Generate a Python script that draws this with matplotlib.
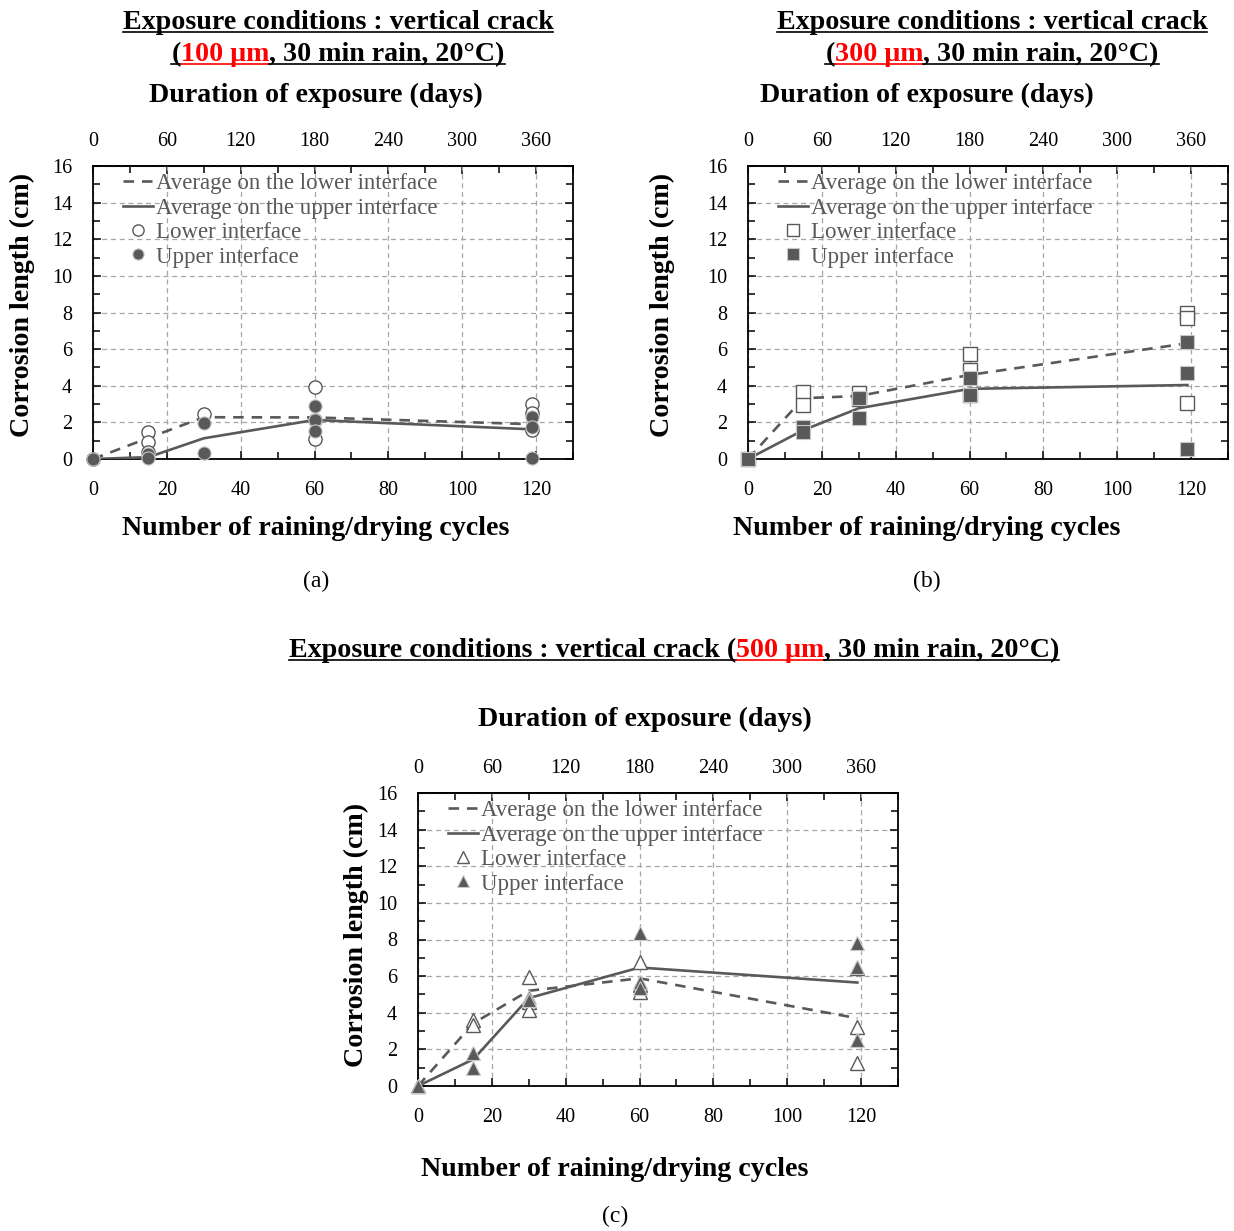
import matplotlib
matplotlib.use("Agg")
import matplotlib.pyplot as plt
from matplotlib.lines import Line2D
from matplotlib.ticker import MultipleLocator

# --- Data ---
avg_cycles = [0, 15, 30, 60, 119]

# (a) 100 um crack
a_avg_lower = [0, 1.15, 2.28, 2.27, 1.9]
a_avg_upper = [0, 0.1, 1.13, 2.13, 1.62]
a_lower_x = [0, 15, 15, 15, 30, 60, 60, 60, 119, 119, 119]
a_lower_y = [0, 1.5, 0.95, 0.4, 2.45, 3.95, 2.15, 1.1, 3.0, 2.5, 1.6]
a_upper_x = [0, 15, 15, 30, 30, 60, 60, 60, 119, 119, 119]
a_upper_y = [0, 0.3, 0.05, 1.95, 0.35, 2.9, 2.15, 1.55, 2.3, 1.75, 0.05]

# (b) 300 um crack
b_avg_lower = [0, 3.32, 3.44, 4.59, 6.32]
b_avg_upper = [0, 1.58, 2.77, 3.83, 4.04]
b_lower_x = [0, 15, 15, 30, 30, 60, 60, 60, 119, 119, 119]
b_lower_y = [0, 3.68, 2.95, 3.6, 3.3, 5.72, 4.86, 3.5, 8.0, 7.69, 3.04]
b_upper_x = [0, 15, 15, 30, 30, 60, 60, 119, 119, 119]
b_upper_y = [0, 1.75, 1.45, 3.32, 2.22, 4.41, 3.5, 6.41, 4.72, 0.53]

# (c) 500 um crack
c_avg_lower = [0, 3.43, 5.2, 5.88, 3.7]
c_avg_upper = [0, 1.46, 4.8, 6.47, 5.65]
c_lower_x = [0, 15, 15, 30, 30, 30, 60, 60, 60, 119, 119, 119]
c_lower_y = [0, 3.6, 3.33, 5.97, 4.6, 4.15, 6.79, 5.5, 5.15, 6.45, 3.24, 1.24]
c_upper_x = [0, 15, 15, 30, 30, 60, 60, 60, 119, 119, 119]
c_upper_y = [0, 1.78, 0.97, 4.88, 4.7, 8.34, 5.7, 5.34, 7.8, 6.52, 2.51]

legend_labels = ["Average on the lower interface", "Average on the upper interface",
                 "Lower interface", "Upper interface"]
day_ticks = [0, 60, 120, 180, 240, 300, 360]

# --- Style ---
W, H = 1234, 1231
GRAY = "#595959"
BIG = 20.2
plt.rcParams["font.family"] = ["Liberation Serif", "DejaVu Serif"]

fig = plt.figure(figsize=(W / 100, H / 100), dpi=100)
renderer = fig.canvas.get_renderer()


def fx(x):
    return x / W


def fy(y):
    return 1 - y / H


def text_at(x, y, s, size, bold=False, **kw):
    return fig.text(fx(x), fy(y), s, fontsize=size,
                    fontweight="bold" if bold else "normal", **kw)


def rich_line(parts, cx, baseline, size):
    # bold, underlined line made of coloured pieces, centred on cx
    texts = [text_at(0, baseline, s, size, bold=True, color=c, va="baseline", ha="left")
             for s, c in parts]
    widths = [t.get_window_extent(renderer).width for t in texts]
    x = cx - sum(widths) / 2
    for t, w, (s, c) in zip(texts, widths, parts):
        t.set_x(fx(x))
        fig.add_artist(Line2D([fx(x), fx(x + w)], [fy(baseline + 3)] * 2,
                              color=c, lw=1.2, transform=fig.transFigure))
        x += w


def panel(left, bottom, marker, lower_x, lower_y, upper_x, upper_y, avg_lower, avg_upper):
    ax = fig.add_axes([fx(left), fy(bottom), 480 / W, 293 / H])
    ax.set_xlim(0, 130)
    ax.set_ylim(0, 16)
    ax.xaxis.set_major_locator(MultipleLocator(20))
    ax.xaxis.set_minor_locator(MultipleLocator(10))
    ax.yaxis.set_major_locator(MultipleLocator(2))
    ax.yaxis.set_minor_locator(MultipleLocator(1))
    ax.tick_params(which="both", direction="in", right=True, labelsize=14.5, width=1.1)
    ax.tick_params(which="major", length=6)
    ax.tick_params(which="minor", length=5)
    ax.tick_params(axis="x", pad=16)
    ax.tick_params(axis="y", pad=15)
    ax.grid(True, which="major", ls=(0, (4, 3)), color="#a6a6a6", lw=0.9)
    for sp in ax.spines.values():
        sp.set_linewidth(1.3)

    sec = ax.secondary_xaxis("top", functions=(lambda c: c * 3, lambda d: d / 3))
    sec.set_xticks(day_ticks)
    sec.xaxis.set_minor_locator(MultipleLocator(30))
    sec.tick_params(which="both", direction="in", labelsize=14.5, width=1.1, pad=11)
    sec.tick_params(which="major", length=6)
    sec.tick_params(which="minor", length=5)
    sec.spines["top"].set_linewidth(1.3)

    ax.plot(avg_cycles, avg_lower, color=GRAY, lw=1.9, ls=(0, (4, 3)),
            label=legend_labels[0], zorder=3)
    ax.plot(avg_cycles, avg_upper, color=GRAY, lw=1.9, label=legend_labels[1], zorder=3)
    ax.plot(lower_x, lower_y, ls="none", marker=marker, ms=9.5, mfc="white", mec=GRAY,
            mew=1.0, label=legend_labels[2], clip_on=False, zorder=4)
    ax.plot(upper_x, upper_y, ls="none", marker=marker, ms=9.5, mfc=GRAY, mec="#c8c8c8",
            mew=0.8, label=legend_labels[3], clip_on=False, zorder=5)
    ax.legend(loc="upper left", bbox_to_anchor=(0.0625, 0.976), frameon=False, fontsize=16.5,
              labelcolor=GRAY, handlelength=1.3, handletextpad=0.15, labelspacing=0.15,
              borderaxespad=0, borderpad=0, markerscale=0.85)
    return ax


def labels(cx_top, cx_bot, top_base, bot_base, tag_y, tag, ylab_x, ylab_y):
    text_at(cx_top, top_base, "Duration of exposure (days)", BIG, bold=True,
            ha="center", va="baseline")
    text_at(cx_bot, bot_base, "Number of raining/drying cycles", BIG, bold=True,
            ha="center", va="baseline")
    text_at(cx_bot, tag_y, tag, 17, ha="center", va="center")
    text_at(ylab_x, ylab_y, "Corrosion length (cm)", BIG, bold=True,
            ha="center", va="center", rotation=90)


# --- Panel (a) ---
panel(93, 459, "o", a_lower_x, a_lower_y, a_upper_x, a_upper_y, a_avg_lower, a_avg_upper)
labels(316, 316, 102, 535, 581, "(a)", 22, 305)
rich_line([("Exposure conditions : vertical crack", "black")], 338, 29, BIG)
rich_line([("(", "black"), ("100 μm", "red"), (", 30 min rain, 20°C)", "black")], 338, 61, BIG)

# --- Panel (b) ---
panel(748, 459, "s", b_lower_x, b_lower_y, b_upper_x, b_upper_y, b_avg_lower, b_avg_upper)
labels(927, 927, 102, 535, 581, "(b)", 662, 305)
rich_line([("Exposure conditions : vertical crack", "black")], 992, 29, BIG)
rich_line([("(", "black"), ("300 μm", "red"), (", 30 min rain, 20°C)", "black")], 992, 61, BIG)

# --- Panel (c) ---
panel(418, 1086, "^", c_lower_x, c_lower_y, c_upper_x, c_upper_y, c_avg_lower, c_avg_upper)
labels(645, 615, 726, 1176, 1216, "(c)", 356, 935)
rich_line([("Exposure conditions : vertical crack (", "black"), ("500 μm", "red"),
           (", 30 min rain, 20°C)", "black")], 674, 657, BIG)

fig.savefig("out.png", dpi=100)
